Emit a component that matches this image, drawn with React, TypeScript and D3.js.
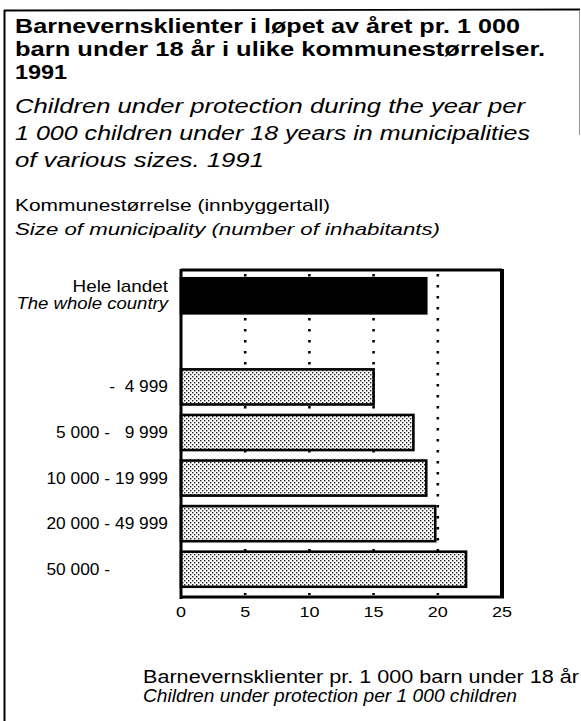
import React from "react";
import * as d3 from "d3";

const titleLines = [
  "Barnevernsklienter i løpet av året pr. 1 000",
  "barn under 18 år i ulike kommunestørrelser.",
  "1991",
];
const subtitleLines = [
  "Children under protection during the year per",
  "1 000 children under 18 years in municipalities",
  "of various sizes. 1991",
];
const yTitleNo = "Kommunestørrelse (innbyggertall)";
const yTitleEn = "Size of municipality (number of inhabitants)";
const xTitleNo = "Barnevernsklienter pr. 1 000 barn under 18 år";
const xTitleEn = "Children under protection per 1 000 children";

const categories = ["total", "gap", "c1", "c2", "c3", "c4", "c5"];
const lowerLabels = ["", "", "", "5 000", "10 000", "20 000", "50 000"];
const upperLabels = ["", "", "4 999", "9 999", "19 999", "49 999", ""];
const values = [19.1, NaN, 15.0, 18.1, 19.1, 19.8, 22.2];
const totalLabelNo = "Hele landet";
const totalLabelEn = "The whole country";
const xTicks = [0, 5, 10, 15, 20, 25];
const gridValues = [5, 10, 15, 20];

const W = 581;
const H = 721;
const plotL = 181;
const plotR = 502;
const plotT = 270;
const plotB = 597;

function FitText(props: {
  x: number;
  y: number;
  w: number;
  size: number;
  bold?: boolean;
  italic?: boolean;
  children: string;
}) {
  return (
    <text
      x={props.x}
      y={props.y}
      fontSize={props.size}
      fontWeight={props.bold ? "bold" : "normal"}
      fontStyle={props.italic ? "italic" : "normal"}
      textLength={props.w}
      lengthAdjust="spacingAndGlyphs"
      fill="#000"
      style={{ whiteSpace: "pre" }}
    >
      {props.children}
    </text>
  );
}

function SText(props: {
  x: number;
  y: number;
  sx: number;
  size: number;
  anchor?: string;
  italic?: boolean;
  children: string | number;
}) {
  return (
    <text
      transform={`translate(${props.x},${props.y}) scale(${props.sx},1)`}
      fontSize={props.size}
      fontStyle={props.italic ? "italic" : "normal"}
      textAnchor={props.anchor || "start"}
      fill="#000"
      style={{ whiteSpace: "pre" }}
    >
      {props.children}
    </text>
  );
}

export default function App() {
  const x = d3.scaleLinear().domain([0, 25]).range([plotL, plotR]);
  const y = d3
    .scaleBand<string>()
    .domain(categories)
    .range([273, 592])
    .paddingInner(0.23)
    .paddingOuter(0.115);
  const font = "'Liberation Sans', Arial, Helvetica, sans-serif";
  const labelRight = 168;
  const dashRight = 110;
  const titleW = [505, 530, 52];
  const subW = [510, 515, 249];

  return (
    <svg
      width={W}
      height={H}
      style={{ position: "absolute", left: 0, top: 0, display: "block" }}
      fontFamily={font}
    >
      <defs>
        <pattern id="stip" width={4} height={4} patternUnits="userSpaceOnUse">
          <rect width={4} height={4} fill="#ffffff" />
          <rect x={0} y={0} width={1.4} height={1.4} fill="#222" />
          <rect x={2} y={2} width={1.4} height={1.4} fill="#222" />
        </pattern>
      </defs>
      <rect width={W} height={H} fill="#fff" />
      {/* outer frame */}
      <line x1={4.5} x2={4.5} y1={10} y2={H} stroke="#000" strokeWidth={2} />
      <line x1={4} x2={580} y1={10.5} y2={9.5} stroke="#000" strokeWidth={1.8} />
      <line x1={579.5} x2={579.5} y1={10} y2={135} stroke="#999" strokeWidth={1} />

      {/* titles */}
      {titleLines.map((t, i) => (
        <FitText key={t} x={15} y={33 + i * 23} w={titleW[i]} size={21} bold>
          {t}
        </FitText>
      ))}
      {subtitleLines.map((t, i) => (
        <FitText key={t} x={15} y={113 + i * 27} w={subW[i]} size={21} italic>
          {t}
        </FitText>
      ))}
      <FitText x={15} y={211} w={315} size={17}>
        {yTitleNo}
      </FitText>
      <FitText x={15} y={235} w={425} size={17} italic>
        {yTitleEn}
      </FitText>

      {/* gridlines */}
      {gridValues.map((g) => (
        <line
          key={g}
          x1={x(g)}
          x2={x(g)}
          y1={plotT + 4}
          y2={plotB - 2}
          stroke="#000"
          strokeWidth={2.6}
          strokeDasharray="2.6 8.4"
        />
      ))}

      {/* bars */}
      {categories.map((c, i) => {
        const v = values[i];
        if (!isFinite(v)) return null;
        const y0 = y(c) as number;
        return (
          <rect
            key={c}
            x={x(0)}
            y={y0}
            width={x(v) - x(0)}
            height={y.bandwidth()}
            fill={i === 0 ? "#000" : "url(#stip)"}
            stroke="#000"
            strokeWidth={2.6}
          />
        );
      })}

      {/* plot frame */}
      <line x1={plotL} x2={plotR} y1={plotT} y2={plotT} stroke="#000" strokeWidth={3} />
      <line x1={plotL} x2={plotR + 2} y1={plotB} y2={plotB} stroke="#000" strokeWidth={3} />
      <line x1={plotL} x2={plotL} y1={plotT - 1} y2={plotB + 2} stroke="#000" strokeWidth={3} />
      <line x1={plotR} x2={plotR} y1={plotT - 1} y2={plotB + 1} stroke="#000" strokeWidth={4} />

      {/* category labels */}
      {categories.map((c, i) => {
        const cy = (y(c) as number) + y.bandwidth() / 2;
        if (i === 0) {
          return (
            <g key={c}>
              <SText x={labelRight} y={cy - 4} sx={1.18} size={16} anchor="end">
                {totalLabelNo}
              </SText>
              <SText x={labelRight} y={cy + 13} sx={1.16} size={16} anchor="end" italic>
                {totalLabelEn}
              </SText>
            </g>
          );
        }
        if (c === "gap") return null;
        const lo = lowerLabels[i];
        const up = upperLabels[i];
        return (
          <g key={c}>
            <SText x={dashRight + (lo ? 0 : 5)} y={cy + 5.5} sx={1.05} size={16.5} anchor="end">
              {lo ? lo + " -" : "-"}
            </SText>
            {up && (
              <SText x={labelRight} y={cy + 5.5} sx={1.05} size={16.5} anchor="end">
                {up}
              </SText>
            )}
          </g>
        );
      })}

      {/* x tick labels */}
      {xTicks.map((t) => (
        <SText key={t} x={x(t)} y={617} sx={1.2} size={15} anchor="middle">
          {t}
        </SText>
      ))}

      {/* x title */}
      <FitText x={143} y={683} w={436} size={17.5}>
        {xTitleNo}
      </FitText>
      <FitText x={143} y={702} w={374} size={17.5} italic>
        {xTitleEn}
      </FitText>
    </svg>
  );
}
